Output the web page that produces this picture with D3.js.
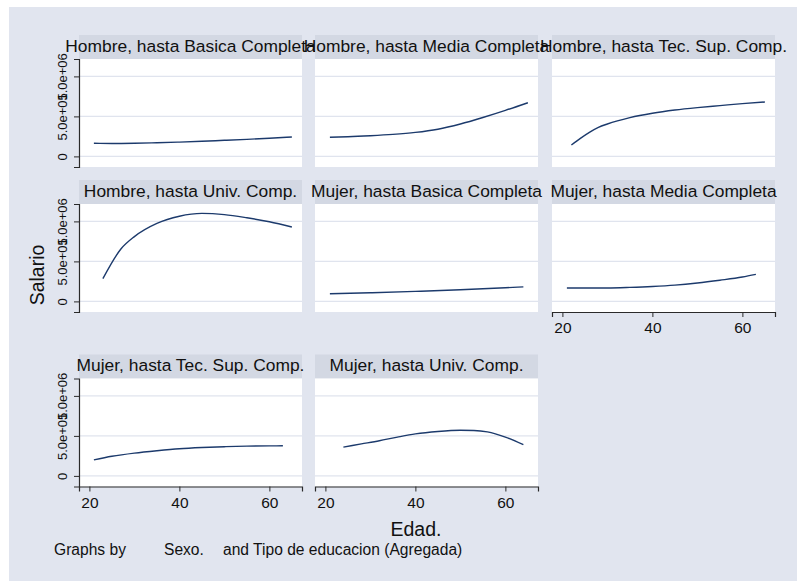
<!DOCTYPE html>
<html>
<head>
<meta charset="utf-8">
<script src="https://cdn.jsdelivr.net/npm/d3@7"></script>
<style>
  html, body { margin: 0; padding: 0; background: #ffffff; }
  svg { display: block; font-family: "Liberation Sans", Arial, Helvetica, sans-serif; }
</style>
</head>
<body>
<svg id="chart" width="797" height="581"></svg>
<script>
// Panel titles (Sexo x Tipo de educacion)
const panelTitles = [
  "Hombre, hasta Basica Completa",
  "Hombre, hasta Media Completa",
  "Hombre, hasta Tec. Sup. Comp.",
  "Hombre, hasta Univ. Comp.",
  "Mujer, hasta Basica Completa",
  "Mujer, hasta Media Completa",
  "Mujer, hasta Tec. Sup. Comp.",
  "Mujer, hasta Univ. Comp."
];

// Fitted salary by age, one pair of arrays per panel
const edadHombreBasica   = [21, 25, 30, 35, 40, 45, 50, 55, 60, 65];
const salarioHombreBasica = [164000, 162000, 165000, 171000, 179000, 189000, 201000, 213000, 227000, 243000];

const edadHombreMedia    = [21, 25, 30, 35, 40, 45, 50, 55, 60, 65];
const salarioHombreMedia  = [239000, 245000, 258000, 275000, 300000, 340000, 405000, 486000, 575000, 671000];

const edadHombreTec      = [22, 24, 26, 28, 30, 35, 40, 45, 50, 55, 60, 65];
const salarioHombreTec    = [142000, 225000, 300000, 362000, 405000, 485000, 540000, 580000, 610000, 635000, 660000, 680000];

const edadHombreUniv     = [23, 27, 30, 35, 40, 45, 50, 55, 60, 65];
const salarioHombreUniv   = [284000, 655000, 810000, 975000, 1065000, 1100000, 1085000, 1045000, 995000, 930000];

const edadMujerBasica    = [21, 30, 40, 50, 60, 64];
const salarioMujerBasica  = [95000, 108000, 125000, 145000, 170000, 182000];

const edadMujerMedia     = [21, 30, 35, 40, 45, 50, 55, 60, 63];
const salarioMujerMedia   = [167000, 168000, 175000, 186000, 203000, 230000, 265000, 305000, 338000];

const edadMujerTec       = [21, 25, 30, 35, 40, 45, 50, 55, 60, 63];
const salarioMujerTec     = [200000, 245000, 285000, 315000, 340000, 355000, 365000, 372000, 375000, 376000];

const edadMujerUniv      = [24, 28, 32, 36, 40, 45, 50, 53, 56, 60, 64];
const salarioMujerUniv    = [360000, 400000, 440000, 485000, 525000, 555000, 570000, 568000, 550000, 485000, 390000];

const panelAges = [edadHombreBasica, edadHombreMedia, edadHombreTec, edadHombreUniv,
                   edadMujerBasica, edadMujerMedia, edadMujerTec, edadMujerUniv];
const panelSalaries = [salarioHombreBasica, salarioHombreMedia, salarioHombreTec, salarioHombreUniv,
                       salarioMujerBasica, salarioMujerMedia, salarioMujerTec, salarioMujerUniv];

// Axis ticks
const yTickValues = [0, 500000, 1000000];
const yTickLabels = ["0", "5.0e+05", "1.0e+06"];
const xTickValues = [20, 40, 60];
const xTickLabels = ["20", "40", "60"];

// Text
const yTitle = "Salario";
const xTitle = "Edad.";
const notePieces = ["Graphs by", "Sexo.", "and Tipo de educacion (Agregada)"];

// Style & layout
const BG = "#e1e5ef", STRIP = "#d3d8e3", GRID = "#e0e4ee", LINE = "#1c3a6c", AXIS = "#2a2a2a";
const colX = [79, 315, 552];
const rowTop = [35, 180, 354.5];
const panelW = 223, stripH = 24, plotH = 108;
const xAxisPanels = new Set([5, 6, 7]);

const svg = d3.select("#chart");

svg.append("rect")
  .attr("x", 9).attr("y", 7).attr("width", 788).attr("height", 574)
  .attr("fill", BG);

panelTitles.forEach((title, i) => {
  const row = Math.floor(i / 3), col = i % 3;
  const x0 = colX[col];
  const sTop = rowTop[row];
  const pTop = sTop + stripH;
  const pBot = pTop + plotH;

  const x = d3.scaleLinear().domain([17.69, 67.25]).range([x0, x0 + panelW]);
  const y = d3.scaleLinear().domain([-132500, 1217500]).range([pBot, pTop]);

  const g = svg.append("g");

  // strip behind the panel title
  g.append("rect")
    .attr("x", x0).attr("y", sTop).attr("width", panelW).attr("height", stripH)
    .attr("fill", STRIP);

  // plot area
  g.append("rect")
    .attr("x", x0).attr("y", pTop).attr("width", panelW).attr("height", plotH)
    .attr("fill", "#ffffff");

  // horizontal grid
  g.selectAll("line.grid").data(yTickValues).enter().append("line")
    .attr("class", "grid")
    .attr("x1", x0).attr("x2", x0 + panelW)
    .attr("y1", d => y(d)).attr("y2", d => y(d))
    .attr("stroke", GRID).attr("stroke-width", 1.4);

  // fitted line
  const pts = panelAges[i].map((a, k) => [a, panelSalaries[i][k]]);
  g.append("path")
    .datum(pts)
    .attr("fill", "none")
    .attr("stroke", LINE)
    .attr("stroke-width", 1.4)
    .attr("d", d3.line().x(d => x(d[0])).y(d => y(d[1])).curve(d3.curveMonotoneX));

  // title text drawn on top so overflowing text stays visible
  svg.append("text")
    .attr("x", x0 + panelW / 2).attr("y", sTop + 16.5)
    .attr("text-anchor", "middle")
    .attr("font-size", 17.4)
    .attr("fill", "#111")
    .text(title);

  // left axis on first column
  if (col === 0) {
    const ax = g.append("g").attr("transform", `translate(${x0},0)`)
      .call(d3.axisLeft(y).tickValues(yTickValues)
        .tickFormat((d, k) => yTickLabels[k]).tickSizeOuter(0).tickSize(5).tickPadding(0));
    ax.select(".domain").attr("stroke", AXIS).attr("stroke-width", 1.2);
    ax.selectAll(".tick line").attr("stroke", AXIS).attr("stroke-width", 1);
    ax.selectAll(".tick text")
      .attr("x", null).attr("dy", null)
      .attr("text-anchor", "middle")
      .attr("transform", "translate(-12.5,0) rotate(-90)")
      .attr("font-size", 13)
      .attr("font-family", "\"Liberation Sans\", Arial, sans-serif")
      .attr("fill", "#111");
  }

  // bottom axis on the last panel of each column
  if (xAxisPanels.has(i)) {
    const ax = g.append("g").attr("transform", `translate(0,${pBot})`)
      .call(d3.axisBottom(x).tickValues(xTickValues)
        .tickFormat((d, k) => xTickLabels[k]).tickSizeOuter(0).tickSize(5).tickPadding(5));
    ax.select(".domain").attr("stroke", AXIS).attr("stroke-width", 1.2);
    ax.selectAll(".tick line").attr("stroke", AXIS).attr("stroke-width", 1);
    ax.selectAll(".tick text")
      .attr("font-size", 15.5)
      .attr("font-family", "\"Liberation Sans\", Arial, sans-serif")
      .attr("fill", "#111");
  }
});

// axis titles
svg.append("text")
  .attr("transform", "translate(44,275) rotate(-90)")
  .attr("text-anchor", "middle")
  .attr("font-size", 19.5)
  .attr("fill", "#111")
  .text(yTitle);

svg.append("text")
  .attr("x", 416).attr("y", 536)
  .attr("text-anchor", "middle")
  .attr("font-size", 19.5)
  .attr("fill", "#111")
  .text(xTitle);

// by-variable note
const noteX = [54, 164, 223];
notePieces.forEach((t, k) => {
  svg.append("text")
    .attr("x", noteX[k]).attr("y", 555)
    .attr("font-size", 15.6)
    .attr("fill", "#111")
    .text(t);
});
</script>
</body>
</html>
